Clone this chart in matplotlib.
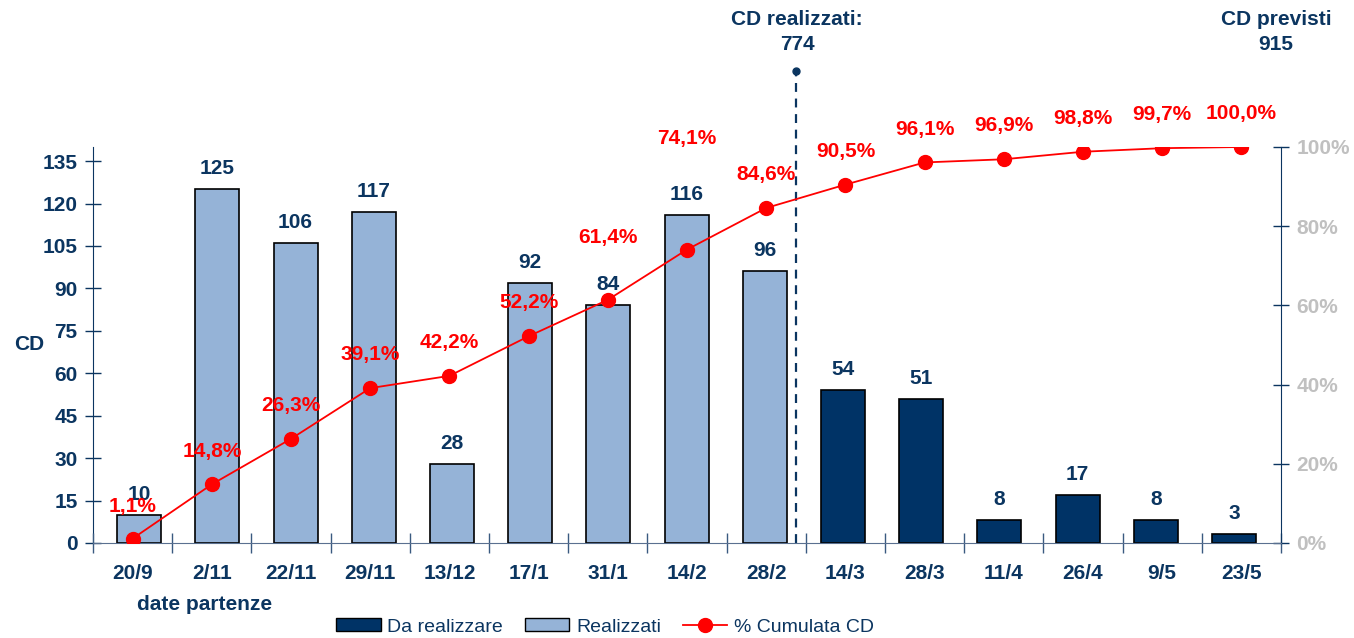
import matplotlib.pyplot as plt
from matplotlib.patches import Patch
from matplotlib.lines import Line2D

plt.rcParams['font.family'] = ['Liberation Sans', 'DejaVu Sans']

dates = ['20/9', '2/11', '22/11', '29/11', '13/12', '17/1', '31/1', '14/2', '28/2',
         '14/3', '28/3', '11/4', '26/4', '9/5', '23/5']
realizzati = [10, 125, 106, 117, 28, 92, 84, 116, 96]
da_realizzare = [54, 51, 8, 17, 8, 3]
cumulata = [1.1, 14.8, 26.3, 39.1, 42.2, 52.2, 61.4, 74.1, 84.6,
            90.5, 96.1, 96.9, 98.8, 99.7, 100.0]
label_offsets = [23, 24, 24, 24, 24, 24, 45, 80, 24, 24, 24, 24, 24, 24, 24]

navy = '#0B3560'
light = '#95B3D7'
dark = '#003366'
red = '#FF0000'
fs = 15

fig = plt.figure(figsize=(13.54, 6.38), dpi=100)
pos = [0.0687, 0.149, 0.8774, 0.6206]

# bars
ax = fig.add_axes(pos)
n_real = len(realizzati)
x_real = list(range(n_real))
x_da = list(range(n_real, n_real + len(da_realizzare)))
ax.bar(x_real, realizzati, width=0.563, color=light, edgecolor='black', linewidth=1.2, zorder=2)
ax.bar(x_da, da_realizzare, width=0.563, color=dark, edgecolor='black', linewidth=1.2, zorder=2)
for x, v in zip(x_real + x_da, realizzati + da_realizzare):
    ax.annotate(str(v), (x, v), xytext=(0, 8), textcoords='offset points',
                ha='center', va='bottom', fontsize=fs, fontweight='bold', color=navy, zorder=3)
ax.set_xlim(-0.59, 14.6)
ax.set_ylim(0, 140)
ax.set_yticks(range(0, 136, 15))
ax.tick_params(axis='y', direction='inout', length=12, width=1, color=navy,
               labelsize=fs, labelcolor=navy, pad=5)
for t in ax.get_yticklabels():
    t.set_fontweight('bold')
ax.set_xticks([])
for s in ['top', 'right', 'bottom']:
    ax.spines[s].set_visible(False)
ax.spines['left'].set_color(navy)

# separator realised / planned
ax.plot([8.4, 8.4], [0, 167], ls=(0, (4, 3)), color=navy, lw=1.6, clip_on=False, zorder=4)
ax.plot([8.4], [167], 'o', color=navy, ms=5, clip_on=False, zorder=4)

# cumulative line
ax2 = fig.add_axes(pos)
ax2.patch.set_visible(False)
xs = list(range(len(dates)))
ax2.plot(xs, [c / 100 for c in cumulata], color=red, lw=1.3, marker='o', ms=10, zorder=5)
for x, c, off in zip(xs, cumulata, label_offsets):
    ax2.annotate(f'{c:.1f}%'.replace('.', ','), (x, c / 100), xytext=(0, off),
                 textcoords='offset points', ha='center', va='center',
                 fontsize=fs, fontweight='bold', color=red, zorder=6)
ax2.set_xlim(-0.5, 14.5)
ax2.set_ylim(0, 1)
ax2.yaxis.tick_right()
ax2.set_yticks([0, 0.2, 0.4, 0.6, 0.8, 1.0])
ax2.set_yticklabels(['0%', '20%', '40%', '60%', '80%', '100%'])
ax2.tick_params(axis='y', direction='inout', length=12, width=1, color=navy,
                labelsize=fs, labelcolor='#C0C0C0', pad=5)
ax2.set_xticks([i - 0.5 for i in range(len(dates) + 1)])
ax2.set_xticklabels([])
ax2.set_xticks(xs, minor=True)
ax2.set_xticklabels(dates, minor=True)
ax2.tick_params(axis='x', which='major', direction='inout', length=14, width=1, color='#3A5A80')
ax2.tick_params(axis='x', which='minor', length=0, labelsize=fs, labelcolor=navy, pad=15)
for t in ax2.get_yticklabels() + ax2.get_xticklabels(minor=True):
    t.set_fontweight('bold')
ax2.spines['top'].set_visible(False)
ax2.spines['left'].set_visible(False)
ax2.spines['right'].set_color(navy)
ax2.spines['bottom'].set_color('#5A7090')

# texts
fig.text(29 / 1354, 1 - 345 / 638, 'CD', ha='center', va='center', fontsize=fs,
         fontweight='bold', color=navy)
fig.text(205 / 1354, 1 - 605 / 638, 'date partenze', ha='center', va='center', fontsize=fs,
         fontweight='bold', color=navy)
fig.text(797 / 1354, 1 - 32 / 638, 'CD realizzati:\n774', ha='center', va='center',
         fontsize=fs, fontweight='bold', color=navy, linespacing=1.45)
fig.text(1276 / 1354, 1 - 32 / 638, 'CD previsti\n915', ha='center', va='center',
         fontsize=fs, fontweight='bold', color=navy, linespacing=1.45)

handles = [Patch(facecolor=dark, edgecolor='black', label='Da realizzare'),
           Patch(facecolor=light, edgecolor='black', label='Realizzati'),
           Line2D([0], [0], color=red, marker='o', ms=10, lw=1.3, label='% Cumulata CD')]
leg = fig.legend(handles=handles, loc='center', bbox_to_anchor=(605 / 1354, 1 - 627 / 638),
                 ncol=3, frameon=False, fontsize=14, handlelength=2.3, handleheight=0.63,
                 columnspacing=1.1, handletextpad=0.35, borderpad=0)
for t in leg.get_texts():
    t.set_color(navy)

fig.savefig('out.png', dpi=100)
